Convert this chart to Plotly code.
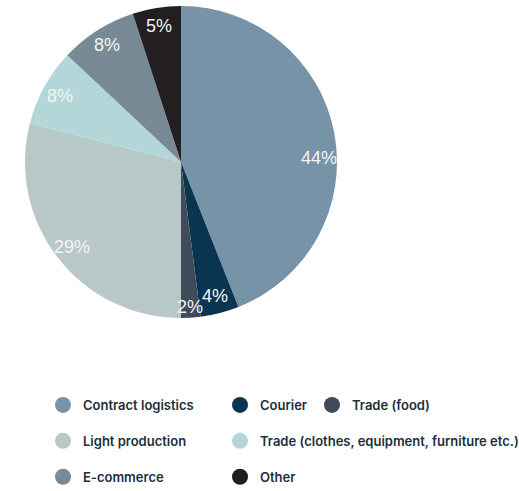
import math
import plotly.graph_objects as go

# Share of warehouse space by user segment
segments = [
    "Contract logistics",
    "Courier",
    "Trade (food)",
    "Light production",
    "Trade (clothes, equipment, furniture etc.)",
    "E-commerce",
    "Other",
]
shares = [44, 4, 2, 29, 8, 8, 5]
colors = ["#7793a8", "#0a3550", "#3f4b58", "#b8c7c7", "#b3d7d8", "#788a96", "#231f20"]

# legend columns (which legend box each segment goes to)
legend_column = ["legend", "legend2", "legend3", "legend", "legend2", "legend", "legend2"]

W, H = 519, 491
CX, CY, R = 181, 162, 156  # pie centre / radius in pixels

fig = go.Figure()
fig.add_trace(go.Pie(
    labels=segments,
    values=shares,
    marker=dict(colors=colors, line=dict(width=0)),
    sort=False,
    direction="clockwise",
    rotation=0,
    textinfo="none",
    hoverinfo="label+percent",
    showlegend=False,
    domain=dict(x=[(CX - R) / W, (CX + R) / W], y=[1 - (CY + R) / H, 1 - (CY - R) / H]),
))

# percentage labels near the rim of each slice
label_shift = {"Contract logistics": 9}
total = sum(shares)
start = 0.0
for seg, v in zip(segments, shares):
    span = 360.0 * v / total
    ang = math.radians(start + span / 2 + label_shift.get(seg, 0))
    rr = 145 if v <= 2 else 138
    px = CX + rr * math.sin(ang)
    py = CY - rr * math.cos(ang)
    fig.add_annotation(
        x=px / W, y=1 - py / H, xref="paper", yref="paper",
        text=f"{v}%", showarrow=False,
        font=dict(family="Liberation Sans, Arial", size=18, color="#f4f4f4"),
        xanchor="center", yanchor="middle",
    )
    start += span

# legend entries
for seg, col, lg in zip(segments, colors, legend_column):
    fig.add_trace(go.Scatter(
        x=[None], y=[None], mode="markers", name=seg,
        marker=dict(symbol="circle", size=16, color=col),
        legend=lg, legendgroup=seg, showlegend=True, hoverinfo="skip",
    ))

legend_font = dict(family="Inter, Noto Sans", size=13, color="#1c2f3a", weight=600)
common = dict(
    orientation="v", xanchor="left", yanchor="top", font=legend_font,
    bgcolor="rgba(0,0,0,0)", traceorder="grouped", tracegroupgap=16,
    itemsizing="trace",
)
fig.update_layout(
    width=W, height=H,
    margin=dict(l=0, r=0, t=0, b=0, autoexpand=False),
    paper_bgcolor="white", plot_bgcolor="white",
    xaxis=dict(visible=False), yaxis=dict(visible=False),
    legend=dict(x=43 / W, y=1 - 390 / H, **common),
    legend2=dict(x=220 / W, y=1 - 390 / H, **common),
    legend3=dict(x=312 / W, y=1 - 390 / H, **common),
)

fig.write_html("out.html")
